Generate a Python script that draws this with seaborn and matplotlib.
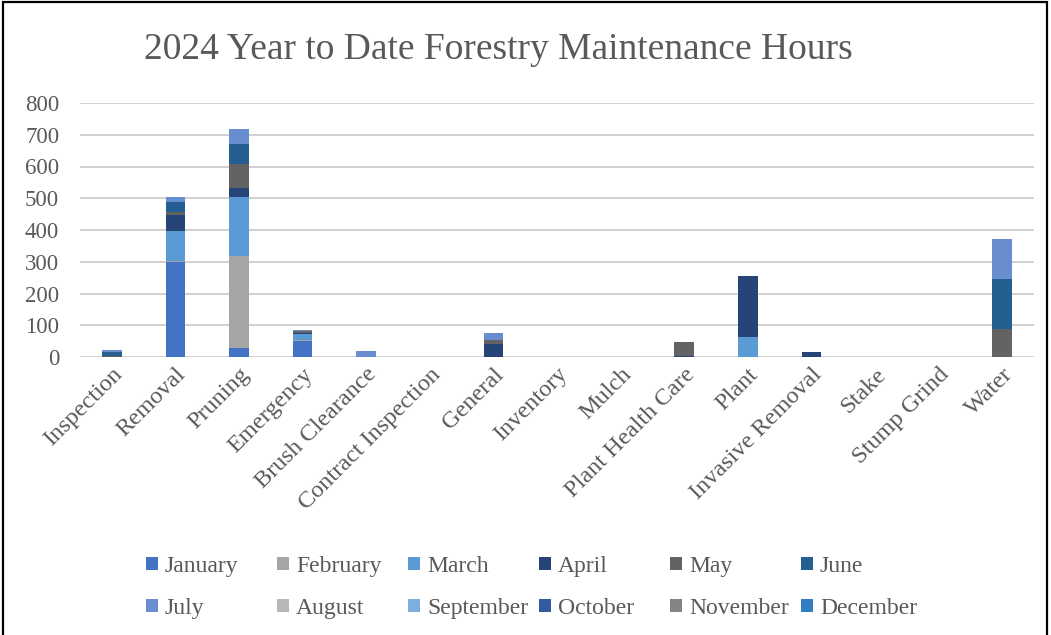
import matplotlib
matplotlib.use("Agg")
import matplotlib.pyplot as plt
import seaborn as sns
import numpy as np
import pandas as pd
from matplotlib.patches import Patch, Rectangle

categories = ["Inspection", "Removal", "Pruning", "Emergency", "Brush Clearance",
              "Contract Inspection", "General", "Inventory", "Mulch",
              "Plant Health Care", "Plant", "Invasive Removal", "Stake",
              "Stump Grind", "Water"]
months = ["January", "February", "March", "April", "May", "June",
          "July", "August", "September", "October", "November", "December"]

# hours per month, one value per category (same order as categories)
january   = [0, 300, 27, 51, 0, 0, 0, 0, 0, 0, 0, 0, 0, 0, 0]
february  = [0, 3, 291, 1, 0, 0, 0, 0, 0, 0, 0, 0, 0, 0, 0]
march     = [0, 93, 186, 21, 0, 0, 0, 0, 0, 0, 63, 0, 0, 0, 0]
april     = [0, 52, 29, 3, 0, 0, 40, 0, 0, 2, 191, 15, 0, 0, 0]
may       = [2, 8, 76, 5, 0, 0, 12, 0, 0, 46, 0, 0, 0, 0, 87]
june      = [14, 32, 63, 0, 0, 0, 0, 0, 0, 0, 0, 0, 0, 0, 159]
july      = [7, 16, 47, 3, 19, 0, 24, 0, 0, 0, 0, 0, 0, 0, 125]
august    = [0] * 15
september = [0] * 15
october   = [0] * 15
november  = [0] * 15
december  = [0] * 15

series = [january, february, march, april, may, june, july,
          august, september, october, november, december]

colors = ["#4472C4", "#A5A5A5", "#5B9BD5", "#264478", "#636363", "#255E91",
          "#698ED0", "#B7B7B7", "#7CAFDD", "#335AA1", "#848484", "#327DC2"]

yticks = [0, 100, 200, 300, 400, 500, 600, 700, 800]
title = "2024 Year to Date Forestry Maintenance Hours"

sns.set_theme(style="white")
plt.rcParams["font.family"] = ["Liberation Serif", "DejaVu Serif"]
TXT = "#595959"

W, H = 1051, 635
fig = plt.figure(figsize=(W / 100, H / 100), dpi=100)
ax = fig.add_axes([80 / W, 1 - 357 / H, 954 / W, 254 / H])

bottom = np.zeros(len(categories))
for name, vals, col in zip(months, series, colors):
    df = pd.DataFrame({"cat": categories, "val": vals})
    sns.barplot(data=df, x="cat", y="val", order=categories, color=col,
                width=0.31, bottom=bottom.copy(), errorbar=None,
                saturation=1, linewidth=0, ax=ax)
    bottom += np.array(vals, dtype=float)

ax.set_ylim(0, 800)
ax.set_xlim(-0.5, len(categories) - 0.5)
ax.set_yticks(yticks)
ax.set_yticklabels([str(t) for t in yticks])
ax.yaxis.grid(True, color="#D0D0D0", linewidth=1.4)
ax.set_axisbelow(True)
for s in ax.spines.values():
    s.set_visible(False)
ax.set_xlabel("")
ax.set_ylabel("")
ax.tick_params(axis="y", length=0, pad=15, labelsize=16.5, labelcolor=TXT)
ax.tick_params(axis="x", length=0, pad=5, labelsize=17.5, labelcolor=TXT)
ax.set_xticks(range(len(categories)))
ax.set_xticklabels(categories, rotation=45, ha="right", va="top",
                   rotation_mode="anchor")

fig.text(498 / W, 1 - 50 / H, title, ha="center", va="center",
         fontsize=27, color=TXT)

# legend: one column legend per pair of months
for c in range(6):
    handles = [Patch(facecolor=colors[c], edgecolor="none"),
               Patch(facecolor=colors[c + 6], edgecolor="none")]
    leg = fig.legend(handles, [months[c], months[c + 6]], loc="upper left",
                     bbox_to_anchor=((146 + 131 * c) / W, 1 - 556 / H),
                     frameon=False, fontsize=17, handlelength=0.5,
                     handleheight=0.5, handletextpad=0.3, labelspacing=0.88,
                     borderpad=0, borderaxespad=0)
    for t in leg.get_texts():
        t.set_color(TXT)

fig.add_artist(Rectangle((2.5 / W, -0.01), 1044.5 / W, 1.0 + 0.01 - 1.5 / H,
                         transform=fig.transFigure, fill=False,
                         edgecolor="black", linewidth=1.6))

fig.savefig("out.png", dpi=100, facecolor="white")
